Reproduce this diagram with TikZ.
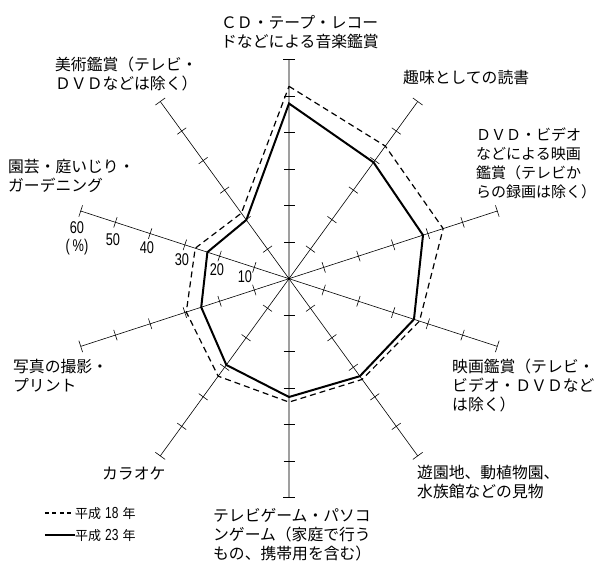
\documentclass[tikz,border=0pt]{standalone}
\usepackage{fontspec}
\setmainfont{Noto Sans CJK JP}
\newfontfamily\numfont[FakeStretch=0.75]{Liberation Sans}

\begin{document}
\begin{tikzpicture}[x=1pt,y=1pt,
  axis/.style={line width=0.6pt},
  vaxis/.style={line width=1.4pt,draw=gray!75},
  lbl/.style={inner sep=0pt,align=left,anchor=base west,font=\fontsize{15.8pt}{19pt}\selectfont},
  num/.style={inner sep=0pt,align=center,font=\numfont\fontsize{17pt}{18pt}\selectfont},
  h23/.style={line width=2pt,line join=miter},
  h18/.style={line width=1.2pt,dash pattern=on 6pt off 4pt}]
\useasboundingbox (-289,-282.3) rectangle (307,278.7);
% axes, 10 percent per tick
\foreach \a/\s in {90/vaxis,54/axis,18/axis,-18/axis,-54/axis,-90/vaxis,-126/axis,-162/axis,162/axis,126/axis} {
  \begin{scope}[rotate=\a]
  \draw[\s] (0,0) -- (219,0);
  \foreach \r in {36.5,73,109.5,146,182.5} \draw[axis] (\r,-5.5) -- (\r,5.5);
  \draw[axis] (219,-6) -- (219,6);
  \end{scope}
}
\fill (0,0) circle (1.6pt);
% data
\draw[h18] (90:192.4) -- (54:163.9) -- (18:162.1) -- (-18:137.2) -- (-54:124.5) -- (-90:123.4) -- (-126:120.5) -- (-162:108) -- (162:98.6) -- (126:81) -- cycle;
\draw[h23] (90:175.2) -- (54:143.8) -- (18:140.9) -- (-18:131.4) -- (-54:120.5) -- (-90:118.3) -- (-126:106.6) -- (-162:92.3) -- (162:85.8) -- (126:72.6) -- cycle;
% scale
\node[num] (n60) at (-212,40) {60\\(\,\%)};
\node[num] (n50) at (-176,38.7) {50};
\node[num] (n40) at (-142,30.7) {40};
\node[num] (n30) at (-107,18.7) {30};
\node[num] (n20) at (-72,8.7) {20};
\node[num] (n10) at (-44,1.7) {10};
% labels (base = last line)
\node[lbl] (music) at (-68,230.7) {ＣＤ・テープ・レコー\\ドなどによる音楽鑑賞};
\node[lbl] (art) at (-234,188.7) {美術鑑賞（テレビ・\\ＤＶＤなどは除く）};
\node[lbl] (books) at (114,194.7) {趣味としての読書};
\node[lbl,font=\fontsize{15pt}{19pt}\selectfont] (dvd) at (187,80.7) {ＤＶＤ・ビデオ\\などによる映画\\鑑賞（テレビか\\らの録画は除く）};
\node[lbl] (movie) at (163,-132.3) {映画鑑賞（テレビ・\\ビデオ・ＤＶＤなど\\は除く）};
\node[lbl] (park) at (128,-218.3) {遊園地、動植物園、\\水族館などの見物};
\node[lbl] (game) at (-76,-281) {テレビゲーム・パソコ\\ンゲーム（家庭で行う\\もの、携帯用を含む）};
\node[lbl] (karaoke) at (-187,-200.3) {カラオケ};
\node[lbl] (photo) at (-276,-113.3) {写真の撮影・\\プリント};
\node[lbl] (garden) at (-281,86.7) {園芸・庭いじり・\\ガーデニング};
% legend
\node[lbl,font=\fontsize{13pt}{15pt}\selectfont] (y18) at (-214,-239.3) {平成\hspace{4pt}{\numfont\fontsize{16pt}{16pt}\selectfont 18}\hspace{4pt}年};
\node[lbl,font=\fontsize{13pt}{15pt}\selectfont] (y23) at (-214,-261.3) {平成\hspace{4pt}{\numfont\fontsize{16pt}{16pt}\selectfont 23}\hspace{4pt}年};
\coordinate (l18) at (-244,-234.3);
\coordinate (l23) at (-244,-256.3);
\draw[line width=1.2pt,dash pattern=on 4pt off 3.5pt] (l18) -- (y18.west |- l18);
\draw[line width=2pt] (l23) -- (y23.west |- l23);
\end{tikzpicture}
\end{document}
